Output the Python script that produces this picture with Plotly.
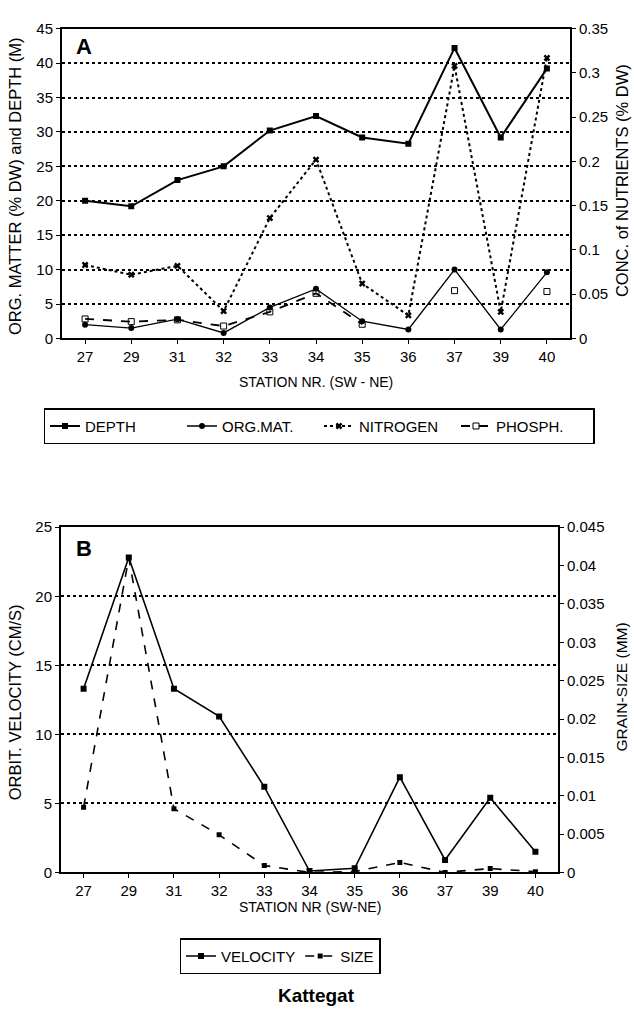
import plotly.graph_objects as go

stations = ["27", "29", "31", "32", "33", "34", "35", "36", "37", "39", "40"]

# Panel A
depth = [20, 19.2, 23, 25, 30.2, 32.3, 29.2, 28.3, 42.2, 29.2, 39.2]
org_mat = [2.0, 1.5, 2.8, 0.8, 4.5, 7.2, 2.5, 1.3, 10.0, 1.3, 9.6]
nitrogen = [0.083, 0.072, 0.082, 0.031, 0.136, 0.202, 0.062, 0.026, 0.308, 0.030, 0.317]
phosph_line = [0.022, 0.019, 0.021, 0.014, 0.030, 0.051, 0.016, None, None, None, None]
phosph_pts = [None, None, None, None, None, None, None, None, 0.054, None, 0.053]

# Panel B
velocity = [13.3, 22.8, 13.3, 11.3, 6.2, 0.1, 0.3, 6.9, 0.9, 5.4, 1.5]
grain_size = [0.0085, 0.041, 0.0083, 0.0049, 0.0009, 0.0, 0.0001, 0.0013, 0.0, 0.0005, 0.0001]

W, H = 634, 1023
FONT = "Liberation Sans, Arial, sans-serif"

def px_x(p):
    return p / W

def px_y(p):
    return 1 - p / H

fig = go.Figure()

# ---- Panel A traces
fig.add_trace(go.Scatter(x=stations, y=depth, name="DEPTH", mode="lines+markers",
                         line=dict(color="black", width=2),
                         marker=dict(symbol="square", size=6, color="black"),
                         xaxis="x", yaxis="y", legend="legend"))
fig.add_trace(go.Scatter(x=stations, y=org_mat, name="ORG.MAT.", mode="lines+markers",
                         line=dict(color="black", width=1.3),
                         marker=dict(symbol="circle", size=6, color="black"),
                         xaxis="x", yaxis="y", legend="legend"))
fig.add_trace(go.Scatter(x=stations, y=nitrogen, name="NITROGEN", mode="lines+markers",
                         line=dict(color="black", width=2, dash="dot"),
                         marker=dict(symbol="x", size=6, color="black"),
                         xaxis="x", yaxis="y2", legend="legend"))
fig.add_trace(go.Scatter(x=stations, y=phosph_line, name="PHOSPH.", mode="lines+markers",
                         line=dict(color="black", width=1.8, dash="dash"),
                         marker=dict(symbol="square-open", size=6, color="black"),
                         xaxis="x", yaxis="y2", legend="legend", connectgaps=False))
fig.add_trace(go.Scatter(x=stations, y=phosph_pts, name="PHOSPH.", mode="markers",
                         marker=dict(symbol="square-open", size=6, color="black"),
                         xaxis="x", yaxis="y2", showlegend=False))

# ---- Panel B traces
fig.add_trace(go.Scatter(x=stations, y=velocity, name="VELOCITY", mode="lines+markers",
                         line=dict(color="black", width=1.6),
                         marker=dict(symbol="square", size=6, color="black"),
                         xaxis="x2", yaxis="y3", legend="legend2"))
fig.add_trace(go.Scatter(x=stations, y=grain_size, name="SIZE", mode="lines+markers",
                         line=dict(color="black", width=1.6, dash="dash"),
                         marker=dict(symbol="square", size=5, color="black"),
                         xaxis="x2", yaxis="y4", legend="legend2"))

tickfont = dict(family=FONT, size=15, color="black")
axcommon = dict(showline=True, linecolor="black", linewidth=2, ticks="outside",
                ticklen=4, tickcolor="black", tickfont=tickfont, zeroline=False)

fig.update_layout(
    width=W, height=H,
    margin=dict(l=0, r=0, t=0, b=0),
    paper_bgcolor="white", plot_bgcolor="white",
    font=dict(family=FONT, color="black"),
    xaxis=dict(domain=[px_x(62), px_x(570)], anchor="y", type="category",
               range=[-0.5, 10.5], mirror=True, showgrid=False, **axcommon),
    yaxis=dict(domain=[px_y(335), px_y(20)], anchor="x", range=[0, 45], dtick=5,
               showgrid=True, gridcolor="black", griddash="dot", gridwidth=1.5,
               **axcommon),
    yaxis2=dict(overlaying="y", side="right", anchor="x", range=[0, 0.35], dtick=0.05,
                showgrid=False, **axcommon),
    xaxis2=dict(domain=[px_x(61), px_x(558)], anchor="y3", type="category",
                range=[-0.5, 10.5], mirror=True, showgrid=False, **axcommon),
    yaxis3=dict(domain=[px_y(878), px_y(527)], anchor="x2", range=[0, 25], dtick=5,
                showgrid=True, gridcolor="black", griddash="dot", gridwidth=1.5,
                **axcommon),
    yaxis4=dict(overlaying="y3", side="right", anchor="x2", range=[0, 0.045], dtick=0.005,
                showgrid=False, **axcommon),
    legend=dict(orientation="h", x=px_x(319), xanchor="center", y=px_y(406), yanchor="top",
                bordercolor="black", borderwidth=1.5, bgcolor="white",
                font=dict(family=FONT, size=15, color="black"),
                entrywidth=92, entrywidthmode="pixels", itemwidth=30),
    legend2=dict(orientation="h", x=px_x(280), xanchor="center", y=px_y(945), yanchor="top",
                 bordercolor="black", borderwidth=1.5, bgcolor="white",
                 font=dict(family=FONT, size=15, color="black"), itemwidth=30),
    showlegend=True,
)

annots = [
    dict(text="<b>A</b>", x=px_x(74), y=px_y(38), xanchor="left", yanchor="middle",
         font=dict(size=22)),
    dict(text="<b>B</b>", x=px_x(74), y=px_y(549), xanchor="left", yanchor="middle",
         font=dict(size=22)),
    dict(text="ORG. MATTER (% DW) and DEPTH (M)", x=px_x(15), y=px_y(180), textangle=-90,
         xanchor="center", yanchor="middle", font=dict(size=16.5)),
    dict(text="CONC. of NUTRIENTS (% DW)", x=px_x(622), y=px_y(175), textangle=-90,
         xanchor="center", yanchor="middle", font=dict(size=16.5)),
    dict(text="STATION NR. (SW - NE)", x=px_x(316), y=px_y(379), xanchor="center",
         yanchor="middle", font=dict(size=14)),
    dict(text="ORBIT. VELOCITY (CM/S)", x=px_x(15), y=px_y(705), textangle=-90,
         xanchor="center", yanchor="middle", font=dict(size=16.5)),
    dict(text="GRAIN-SIZE (MM)", x=px_x(622), y=px_y(690), textangle=-90,
         xanchor="center", yanchor="middle", font=dict(size=15.5)),
    dict(text="STATION NR (SW-NE)", x=px_x(310), y=px_y(913), xanchor="center",
         yanchor="middle", font=dict(size=14)),
    dict(text="<b>Kattegat</b>", x=px_x(316), y=px_y(1003), xanchor="center",
         yanchor="middle", font=dict(size=19)),
]
for a in annots:
    a.update(xref="paper", yref="paper", showarrow=False)
    a["font"] = dict(family=FONT, color="black", **a["font"])
    fig.add_annotation(**a)

fig.write_html("out.html")
